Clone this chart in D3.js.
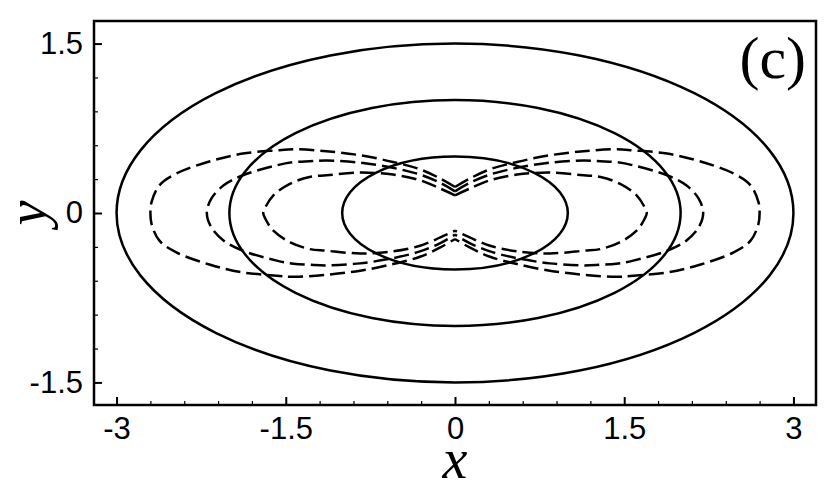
<!DOCTYPE html>
<html>
<head>
<meta charset="utf-8">
<script src="https://cdn.jsdelivr.net/npm/d3@7"></script>
<style>
  body { margin: 0; background: #fff; }
  svg { display: block; }
</style>
</head>
<body>
<div id="chart"></div>
<script>
// solid ellipses, semi axes
var ellipseA = [3, 2, 1];
var ellipseB = [1.5, 1, 0.5];

// dashed curves, upper right quarter (mirrored when drawn)
var outerX = [0, 0.13, 0.31, 0.55, 0.84, 1.14, 1.43, 1.58, 1.88, 2.17, 2.47, 2.62, 2.69, 2.70];
var outerY = [0.23, 0.305, 0.387, 0.452, 0.511, 0.547, 0.565, 0.555, 0.526, 0.458, 0.349, 0.245, 0.097, 0];
var middleX = [0, 0.13, 0.31, 0.55, 0.84, 1.14, 1.29, 1.43, 1.58, 1.88, 2.05, 2.16, 2.20];
var middleY = [0.192, 0.266, 0.34, 0.40, 0.446, 0.464, 0.458, 0.45, 0.422, 0.334, 0.245, 0.127, 0];
var innerX = [0, 0.13, 0.31, 0.55, 0.84, 1.14, 1.29, 1.46, 1.61, 1.68, 1.70];
var innerY = [0.157, 0.216, 0.29, 0.34, 0.358, 0.334, 0.319, 0.26, 0.157, 0.053, 0];

// ticks
var xTicks = [-3, -1.5, 0, 1.5, 3];
var yTicks = [-1.5, 0, 1.5];
var xMinor = [-2.7, -2.4, -2.1, -1.8, -1.2, -0.9, -0.6, -0.3, 0.3, 0.6, 0.9, 1.2, 1.8, 2.1, 2.4, 2.7];
var yMinor = [-1.2, -0.9, -0.6, -0.3, 0.3, 0.6, 0.9, 1.2];

var width = 830, height = 491;
var box = {left: 94, right: 816, top: 21, bottom: 405};

var svg = d3.select("#chart")
            .append("svg")
            .attr("width", width)
            .attr("height", height);

var xScale = d3.scaleLinear().domain([-3.2, 3.2]).range([box.left, box.right]);
var yScale = d3.scaleLinear().domain([-1.7, 1.7]).range([box.bottom, box.top]);

// clip to plot box
svg.append("clipPath").attr("id", "box")
   .append("rect")
   .attr("x", box.left).attr("y", box.top)
   .attr("width", box.right - box.left).attr("height", box.bottom - box.top);

var plot = svg.append("g").attr("clip-path", "url(#box)");

// ellipses
plot.selectAll("ellipse")
    .data(ellipseA)
    .enter()
    .append("ellipse")
    .attr("cx", xScale(0))
    .attr("cy", yScale(0))
    .attr("rx", a => xScale(a) - xScale(0))
    .attr("ry", (a, i) => yScale(0) - yScale(ellipseB[i]))
    .attr("fill", "none")
    .attr("stroke", "#000")
    .attr("stroke-width", 2.5);

// dashed lobes
var line = d3.line()
             .x(d => xScale(d[0]))
             .y(d => yScale(d[1]))
             .curve(d3.curveCatmullRom);

function lobe(xs, ys, sx) {
    var pts = [];
    xs.forEach((x, i) => pts.push([sx * x, ys[i]]));
    for (var i = xs.length - 2; i >= 0; i--) pts.push([sx * xs[i], -ys[i]]);
    return pts;
}

var curves = [[outerX, outerY], [middleX, middleY], [innerX, innerY]];
curves.forEach(c => {
    [1, -1].forEach(s => {
        plot.append("path")
            .attr("d", line(lobe(c[0], c[1], s)))
            .attr("fill", "none")
            .attr("stroke", "#000")
            .attr("stroke-width", 2.5)
            .attr("stroke-dasharray", "15,6");
    });
});

// axes, ticks point inward
var xAxis = d3.axisBottom(xScale).tickValues(xTicks).tickSizeInner(-8).tickSizeOuter(0)
              .tickPadding(12).tickFormat(d => String(d));
var yAxis = d3.axisLeft(yScale).tickValues(yTicks).tickSizeInner(-8).tickSizeOuter(0)
              .tickPadding(11).tickFormat(d => String(d));

svg.append("g").attr("transform", `translate(0, ${box.bottom})`).call(xAxis);
svg.append("g").attr("transform", `translate(${box.left}, 0)`).call(yAxis);

svg.append("g").attr("transform", `translate(0, ${box.bottom})`)
   .call(d3.axisBottom(xScale).tickValues(xMinor).tickSize(-4).tickFormat(""))
   .attr("class", "minor");
svg.append("g").attr("transform", `translate(${box.left}, 0)`)
   .call(d3.axisLeft(yScale).tickValues(yMinor).tickSize(-4).tickFormat(""))
   .attr("class", "minor");

svg.selectAll(".domain").remove();
svg.selectAll(".tick line").attr("stroke", "#000").attr("stroke-width", 2);
svg.selectAll(".minor .tick line").attr("stroke-width", 1.2);
svg.selectAll(".tick text")
   .attr("fill", "#000")
   .style("font-family", "'Liberation Sans', Arial, sans-serif")
   .style("font-size", "31px");

// frame
svg.append("rect")
   .attr("x", box.left).attr("y", box.top)
   .attr("width", box.right - box.left).attr("height", box.bottom - box.top)
   .attr("fill", "none")
   .attr("stroke", "#000")
   .attr("stroke-width", 2.5);

// axis titles
svg.append("text")
   .attr("x", xScale(0))
   .attr("y", 478)
   .attr("text-anchor", "middle")
   .style("font-family", "'Liberation Serif', 'Times New Roman', serif")
   .style("font-style", "italic")
   .style("font-size", "56px")
   .text("x");

svg.append("text")
   .attr("transform", `translate(46, ${yScale(0)}) rotate(-90)`)
   .attr("text-anchor", "middle")
   .style("font-family", "'Liberation Serif', 'Times New Roman', serif")
   .style("font-style", "italic")
   .style("font-size", "56px")
   .text("y");

// panel label
svg.append("text")
   .attr("x", 806)
   .attr("y", 78)
   .attr("text-anchor", "end")
   .style("font-family", "'Liberation Serif', 'Times New Roman', serif")
   .style("font-size", "60px")
   .text("(c)");
</script>
</body>
</html>
